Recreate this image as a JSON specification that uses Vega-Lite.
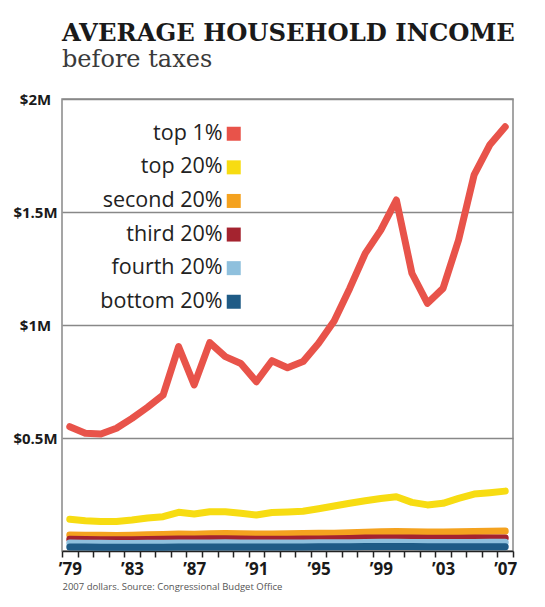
{
  "$schema": "https://vega.github.io/schema/vega-lite/v6.json",
  "autosize": "none",
  "width": 451,
  "height": 452,
  "padding": {"left": 62, "top": 99, "right": 32, "bottom": 56},
  "background": "white",
  "title": {
    "text": "AVERAGE HOUSEHOLD INCOME",
    "subtitle": "before taxes",
    "anchor": "start",
    "frame": "group",
    "font": "DejaVu Serif",
    "fontSize": 24.3,
    "fontWeight": "bold",
    "color": "#1a1a1a",
    "subtitleFont": "DejaVu Serif",
    "subtitleFontSize": 24,
    "subtitleFontWeight": "normal",
    "subtitleColor": "#3a3a3a",
    "subtitlePadding": 2,
    "offset": 20
  },
  "data": {
    "values": [
      {"group": "top 1%", "year": 1979, "income": 0.550},
      {"group": "top 1%", "year": 1980, "income": 0.521},
      {"group": "top 1%", "year": 1981, "income": 0.518},
      {"group": "top 1%", "year": 1982, "income": 0.543},
      {"group": "top 1%", "year": 1983, "income": 0.587},
      {"group": "top 1%", "year": 1984, "income": 0.636},
      {"group": "top 1%", "year": 1985, "income": 0.690},
      {"group": "top 1%", "year": 1986, "income": 0.904},
      {"group": "top 1%", "year": 1987, "income": 0.735},
      {"group": "top 1%", "year": 1988, "income": 0.922},
      {"group": "top 1%", "year": 1989, "income": 0.860},
      {"group": "top 1%", "year": 1990, "income": 0.830},
      {"group": "top 1%", "year": 1991, "income": 0.749},
      {"group": "top 1%", "year": 1992, "income": 0.842},
      {"group": "top 1%", "year": 1993, "income": 0.811},
      {"group": "top 1%", "year": 1994, "income": 0.838},
      {"group": "top 1%", "year": 1995, "income": 0.919},
      {"group": "top 1%", "year": 1996, "income": 1.018},
      {"group": "top 1%", "year": 1997, "income": 1.162},
      {"group": "top 1%", "year": 1998, "income": 1.317},
      {"group": "top 1%", "year": 1999, "income": 1.420},
      {"group": "top 1%", "year": 2000, "income": 1.553},
      {"group": "top 1%", "year": 2001, "income": 1.229},
      {"group": "top 1%", "year": 2002, "income": 1.096},
      {"group": "top 1%", "year": 2003, "income": 1.162},
      {"group": "top 1%", "year": 2004, "income": 1.376},
      {"group": "top 1%", "year": 2005, "income": 1.664},
      {"group": "top 1%", "year": 2006, "income": 1.796},
      {"group": "top 1%", "year": 2007, "income": 1.877},

      {"group": "top 20%", "year": 1979, "income": 0.140},
      {"group": "top 20%", "year": 1980, "income": 0.134},
      {"group": "top 20%", "year": 1981, "income": 0.131},
      {"group": "top 20%", "year": 1982, "income": 0.131},
      {"group": "top 20%", "year": 1983, "income": 0.137},
      {"group": "top 20%", "year": 1984, "income": 0.146},
      {"group": "top 20%", "year": 1985, "income": 0.152},
      {"group": "top 20%", "year": 1986, "income": 0.171},
      {"group": "top 20%", "year": 1987, "income": 0.164},
      {"group": "top 20%", "year": 1988, "income": 0.174},
      {"group": "top 20%", "year": 1989, "income": 0.174},
      {"group": "top 20%", "year": 1990, "income": 0.167},
      {"group": "top 20%", "year": 1991, "income": 0.159},
      {"group": "top 20%", "year": 1992, "income": 0.170},
      {"group": "top 20%", "year": 1993, "income": 0.173},
      {"group": "top 20%", "year": 1994, "income": 0.176},
      {"group": "top 20%", "year": 1995, "income": 0.187},
      {"group": "top 20%", "year": 1996, "income": 0.199},
      {"group": "top 20%", "year": 1997, "income": 0.211},
      {"group": "top 20%", "year": 1998, "income": 0.222},
      {"group": "top 20%", "year": 1999, "income": 0.232},
      {"group": "top 20%", "year": 2000, "income": 0.240},
      {"group": "top 20%", "year": 2001, "income": 0.215},
      {"group": "top 20%", "year": 2002, "income": 0.204},
      {"group": "top 20%", "year": 2003, "income": 0.211},
      {"group": "top 20%", "year": 2004, "income": 0.233},
      {"group": "top 20%", "year": 2005, "income": 0.252},
      {"group": "top 20%", "year": 2006, "income": 0.258},
      {"group": "top 20%", "year": 2007, "income": 0.265},

      {"group": "second 20%", "year": 1979, "income": 0.071},
      {"group": "second 20%", "year": 1980, "income": 0.070},
      {"group": "second 20%", "year": 1981, "income": 0.070},
      {"group": "second 20%", "year": 1982, "income": 0.069},
      {"group": "second 20%", "year": 1983, "income": 0.070},
      {"group": "second 20%", "year": 1984, "income": 0.072},
      {"group": "second 20%", "year": 1985, "income": 0.073},
      {"group": "second 20%", "year": 1986, "income": 0.075},
      {"group": "second 20%", "year": 1987, "income": 0.074},
      {"group": "second 20%", "year": 1988, "income": 0.076},
      {"group": "second 20%", "year": 1989, "income": 0.077},
      {"group": "second 20%", "year": 1990, "income": 0.076},
      {"group": "second 20%", "year": 1991, "income": 0.075},
      {"group": "second 20%", "year": 1992, "income": 0.075},
      {"group": "second 20%", "year": 1993, "income": 0.076},
      {"group": "second 20%", "year": 1994, "income": 0.077},
      {"group": "second 20%", "year": 1995, "income": 0.078},
      {"group": "second 20%", "year": 1996, "income": 0.079},
      {"group": "second 20%", "year": 1997, "income": 0.081},
      {"group": "second 20%", "year": 1998, "income": 0.083},
      {"group": "second 20%", "year": 1999, "income": 0.085},
      {"group": "second 20%", "year": 2000, "income": 0.086},
      {"group": "second 20%", "year": 2001, "income": 0.085},
      {"group": "second 20%", "year": 2002, "income": 0.084},
      {"group": "second 20%", "year": 2003, "income": 0.084},
      {"group": "second 20%", "year": 2004, "income": 0.085},
      {"group": "second 20%", "year": 2005, "income": 0.086},
      {"group": "second 20%", "year": 2006, "income": 0.087},
      {"group": "second 20%", "year": 2007, "income": 0.088},

      {"group": "third 20%", "year": 1979, "income": 0.052},
      {"group": "third 20%", "year": 1980, "income": 0.051},
      {"group": "third 20%", "year": 1981, "income": 0.050},
      {"group": "third 20%", "year": 1982, "income": 0.050},
      {"group": "third 20%", "year": 1983, "income": 0.050},
      {"group": "third 20%", "year": 1984, "income": 0.051},
      {"group": "third 20%", "year": 1985, "income": 0.052},
      {"group": "third 20%", "year": 1986, "income": 0.053},
      {"group": "third 20%", "year": 1987, "income": 0.053},
      {"group": "third 20%", "year": 1988, "income": 0.054},
      {"group": "third 20%", "year": 1989, "income": 0.054},
      {"group": "third 20%", "year": 1990, "income": 0.053},
      {"group": "third 20%", "year": 1991, "income": 0.052},
      {"group": "third 20%", "year": 1992, "income": 0.052},
      {"group": "third 20%", "year": 1993, "income": 0.052},
      {"group": "third 20%", "year": 1994, "income": 0.053},
      {"group": "third 20%", "year": 1995, "income": 0.053},
      {"group": "third 20%", "year": 1996, "income": 0.054},
      {"group": "third 20%", "year": 1997, "income": 0.055},
      {"group": "third 20%", "year": 1998, "income": 0.057},
      {"group": "third 20%", "year": 1999, "income": 0.058},
      {"group": "third 20%", "year": 2000, "income": 0.058},
      {"group": "third 20%", "year": 2001, "income": 0.057},
      {"group": "third 20%", "year": 2002, "income": 0.056},
      {"group": "third 20%", "year": 2003, "income": 0.056},
      {"group": "third 20%", "year": 2004, "income": 0.056},
      {"group": "third 20%", "year": 2005, "income": 0.057},
      {"group": "third 20%", "year": 2006, "income": 0.057},
      {"group": "third 20%", "year": 2007, "income": 0.058},

      {"group": "fourth 20%", "year": 1979, "income": 0.035},
      {"group": "fourth 20%", "year": 1980, "income": 0.034},
      {"group": "fourth 20%", "year": 1981, "income": 0.034},
      {"group": "fourth 20%", "year": 1982, "income": 0.033},
      {"group": "fourth 20%", "year": 1983, "income": 0.033},
      {"group": "fourth 20%", "year": 1984, "income": 0.034},
      {"group": "fourth 20%", "year": 1985, "income": 0.034},
      {"group": "fourth 20%", "year": 1986, "income": 0.035},
      {"group": "fourth 20%", "year": 1987, "income": 0.035},
      {"group": "fourth 20%", "year": 1988, "income": 0.035},
      {"group": "fourth 20%", "year": 1989, "income": 0.036},
      {"group": "fourth 20%", "year": 1990, "income": 0.035},
      {"group": "fourth 20%", "year": 1991, "income": 0.035},
      {"group": "fourth 20%", "year": 1992, "income": 0.035},
      {"group": "fourth 20%", "year": 1993, "income": 0.035},
      {"group": "fourth 20%", "year": 1994, "income": 0.035},
      {"group": "fourth 20%", "year": 1995, "income": 0.036},
      {"group": "fourth 20%", "year": 1996, "income": 0.036},
      {"group": "fourth 20%", "year": 1997, "income": 0.037},
      {"group": "fourth 20%", "year": 1998, "income": 0.038},
      {"group": "fourth 20%", "year": 1999, "income": 0.039},
      {"group": "fourth 20%", "year": 2000, "income": 0.039},
      {"group": "fourth 20%", "year": 2001, "income": 0.038},
      {"group": "fourth 20%", "year": 2002, "income": 0.038},
      {"group": "fourth 20%", "year": 2003, "income": 0.038},
      {"group": "fourth 20%", "year": 2004, "income": 0.038},
      {"group": "fourth 20%", "year": 2005, "income": 0.038},
      {"group": "fourth 20%", "year": 2006, "income": 0.039},
      {"group": "fourth 20%", "year": 2007, "income": 0.039},

      {"group": "bottom 20%", "year": 1979, "income": 0.018},
      {"group": "bottom 20%", "year": 1980, "income": 0.018},
      {"group": "bottom 20%", "year": 1981, "income": 0.017},
      {"group": "bottom 20%", "year": 1982, "income": 0.017},
      {"group": "bottom 20%", "year": 1983, "income": 0.017},
      {"group": "bottom 20%", "year": 1984, "income": 0.017},
      {"group": "bottom 20%", "year": 1985, "income": 0.017},
      {"group": "bottom 20%", "year": 1986, "income": 0.018},
      {"group": "bottom 20%", "year": 1987, "income": 0.018},
      {"group": "bottom 20%", "year": 1988, "income": 0.018},
      {"group": "bottom 20%", "year": 1989, "income": 0.018},
      {"group": "bottom 20%", "year": 1990, "income": 0.018},
      {"group": "bottom 20%", "year": 1991, "income": 0.018},
      {"group": "bottom 20%", "year": 1992, "income": 0.018},
      {"group": "bottom 20%", "year": 1993, "income": 0.018},
      {"group": "bottom 20%", "year": 1994, "income": 0.018},
      {"group": "bottom 20%", "year": 1995, "income": 0.019},
      {"group": "bottom 20%", "year": 1996, "income": 0.019},
      {"group": "bottom 20%", "year": 1997, "income": 0.019},
      {"group": "bottom 20%", "year": 1998, "income": 0.020},
      {"group": "bottom 20%", "year": 1999, "income": 0.020},
      {"group": "bottom 20%", "year": 2000, "income": 0.020},
      {"group": "bottom 20%", "year": 2001, "income": 0.020},
      {"group": "bottom 20%", "year": 2002, "income": 0.019},
      {"group": "bottom 20%", "year": 2003, "income": 0.019},
      {"group": "bottom 20%", "year": 2004, "income": 0.019},
      {"group": "bottom 20%", "year": 2005, "income": 0.019},
      {"group": "bottom 20%", "year": 2006, "income": 0.019},
      {"group": "bottom 20%", "year": 2007, "income": 0.019}
    ]
  },
  "mark": {"type": "line", "strokeWidth": 7, "strokeCap": "round", "strokeJoin": "round"},
  "encoding": {
    "x": {
      "field": "year",
      "type": "quantitative",
      "scale": {"domain": [1978.5, 2007.5], "nice": false, "zero": false},
      "axis": {
        "values": [1978.5, 1979.5, 1980.5, 1981.5, 1982.5, 1983.5, 1984.5, 1985.5, 1986.5, 1987.5, 1988.5, 1989.5, 1990.5, 1991.5, 1992.5, 1993.5, 1994.5, 1995.5, 1996.5, 1997.5, 1998.5, 1999.5, 2000.5, 2001.5, 2002.5, 2003.5, 2004.5, 2005.5, 2006.5, 2007.5],
        "labelExpr": "(datum.value - 1978.5) % 4 === 0 ? '’' + substring(toString(datum.value + 0.5), 2, 4) : ''",
        "labelOffset": 7.8,
        "labelFlush": false,
        "labelOverlap": false,
        "labelBound": false,
        "labelFont": "Open Sans",
        "labelFontSize": 17,
        "labelFontWeight": "bold",
        "labelColor": "#1a1a1a",
        "labelPadding": 4,
        "grid": false,
        "domainColor": "#222",
        "domainWidth": 1.5,
        "tickColor": "#222",
        "tickWidth": 1.5,
        "tickSize": 6,
        "title": "2007 dollars. Source: Congressional Budget Office",
        "titleFont": "Open Sans",
        "titleFontSize": 9.5,
        "titleFontWeight": "normal",
        "titleColor": "#555",
        "titleAnchor": "start",
        "titleAlign": "left",
        "titlePadding": 4
      }
    },
    "y": {
      "field": "income",
      "type": "quantitative",
      "scale": {"domain": [0, 2], "nice": false},
      "axis": {
        "values": [0.5, 1, 1.5, 2],
        "labelExpr": "'$' + datum.value + 'M'",
        "labelAlign": "center",
        "labelPadding": 27,
        "labelFont": "Open Sans",
        "labelFontSize": 15,
        "labelFontWeight": "bold",
        "labelColor": "#1a1a1a",
        "ticks": false,
        "domain": false,
        "grid": true,
        "gridColor": "#888",
        "gridWidth": 1.5,
        "gridOpacity": 1,
        "title": null
      }
    },
    "color": {
      "field": "group",
      "type": "nominal",
      "sort": ["top 1%", "top 20%", "second 20%", "third 20%", "fourth 20%", "bottom 20%"],
      "scale": {
        "domain": ["top 1%", "top 20%", "second 20%", "third 20%", "fourth 20%", "bottom 20%"],
        "range": ["#e8534a", "#f7dc12", "#f4a21f", "#a4232f", "#8fc0dd", "#1f5b86"]
      },
      "legend": {
        "orient": "none",
        "legendX": 161,
        "legendY": 24,
        "title": null,
        "symbolType": "square",
        "symbolSize": 196,
        "symbolStrokeWidth": 0,
        "symbolOpacity": 1,
        "labelAlign": "right",
        "labelOffset": -22,
        "labelFont": "Open Sans",
        "labelFontSize": 21.5,
        "labelColor": "#222",
        "labelLimit": 300,
        "rowPadding": 10.6,
        "padding": 0,
        "encode": {
          "symbols": {
            "update": {
              "fill": {"scale": "color", "field": "value"},
              "fillOpacity": {"value": 1},
              "strokeWidth": {"value": 0}
            }
          }
        }
      }
    }
  },
  "config": {
    "view": {"stroke": "#888", "strokeWidth": 1.5}
  }
}
